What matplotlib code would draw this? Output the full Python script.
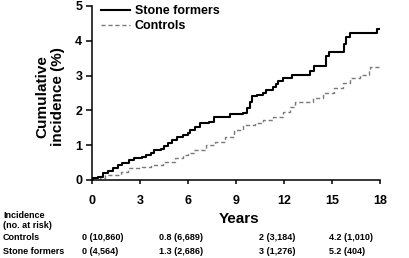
import matplotlib
matplotlib.use("Agg")
import matplotlib.pyplot as plt

# curvas (anos, incidencia acumulada %)
stone_t = [0, 0.06, 0.4, 0.7, 1.0, 1.3, 1.6, 1.9, 2.3, 2.6, 3.1, 3.4, 3.7, 3.9,
           4.3, 4.5, 4.75, 5.0, 5.3, 5.7, 6.0, 6.1, 6.45, 6.75, 7.3, 7.6, 8.2,
           8.6, 9.45, 9.7, 9.85, 10.0, 10.3, 10.7, 10.9, 11.3, 11.5, 11.65,
           11.95, 12.5, 13.6, 13.9, 14.65, 14.8, 15.75, 15.9, 16.1, 17.8, 18.0]
stone_v = [0, 0.05, 0.1, 0.21, 0.27, 0.35, 0.43, 0.5, 0.57, 0.62, 0.66, 0.72,
           0.77, 0.86, 0.88, 0.97, 1.05, 1.15, 1.24, 1.3, 1.36, 1.44, 1.53,
           1.64, 1.68, 1.8, 1.82, 1.91, 1.93, 2.06, 2.25, 2.4, 2.44, 2.49,
           2.59, 2.68, 2.75, 2.84, 2.92, 3.02, 3.13, 3.28, 3.55, 3.69, 3.9,
           4.12, 4.21, 4.33, 4.33]

ctrl_t = [0, 0.5, 0.8, 1.8, 2.25, 3.1, 3.7, 4.45, 5.2, 5.7, 6.0, 6.4, 7.1, 7.7,
          8.3, 8.9, 9.45, 10.2, 10.7, 11.3, 11.95, 12.4, 12.7, 13.8, 14.45,
          15.1, 15.7, 16.1, 16.75, 17.3, 17.4, 18.0]
ctrl_v = [0, 0.07, 0.14, 0.24, 0.34, 0.38, 0.43, 0.53, 0.62, 0.72, 0.79, 0.86,
          1.0, 1.1, 1.24, 1.44, 1.58, 1.65, 1.72, 1.82, 1.96, 2.1, 2.25, 2.35,
          2.49, 2.63, 2.78, 2.92, 3.02, 3.16, 3.26, 3.28]

# tabela de risco embaixo
row_names = ["Controls", "Stone formers"]
ctrl_cells = ["0 (10,860)", "0.8 (6,689)", "2 (3,184)", "4.2 (1,010)"]
stone_cells = ["0 (4,564)", "1.3 (2,686)", "3 (1,276)", "5.2 (404)"]

plt.rcParams["font.family"] = ["Liberation Sans", "DejaVu Sans"]
plt.rcParams["font.weight"] = "bold"

W, H = 410, 258
fig = plt.figure(figsize=(W / 100, H / 100), dpi=100)
ax = fig.add_axes([92 / W, 1 - 180 / H, 288 / W, 174 / H])

ax.plot(stone_t, stone_v, drawstyle="steps-post", color="black", lw=1.5,
        label="Stone formers")
ax.plot(ctrl_t, ctrl_v, drawstyle="steps-post", color="#7a7a7a", lw=1.0,
        dashes=(3, 2), label="Controls")

ax.set_xlim(0, 18)
ax.set_ylim(0, 5)
ax.set_xticks(range(0, 19, 3))
ax.set_yticks(range(0, 6))
for s in ["top", "right"]:
    ax.spines[s].set_visible(False)
for s in ["left", "bottom"]:
    ax.spines[s].set_linewidth(1.1)
ax.tick_params(axis="x", length=3, width=1.1, pad=8, labelsize=9)
ax.tick_params(axis="y", length=4, width=1.1, pad=3, labelsize=9)
for lab in ax.get_xticklabels() + ax.get_yticklabels():
    lab.set_fontweight("bold")

ax.legend(loc="upper left", bbox_to_anchor=(0.01, 1.04), frameon=False,
          handlelength=2.3, handletextpad=0.4, labelspacing=0.25,
          borderpad=0, prop={"weight": "bold", "size": 9})

fig.text(50 / W, 1 - 97 / H, "Cumulative\nincidence (%)", rotation=90,
         ha="center", va="center", fontsize=11, fontweight="bold",
         linespacing=1.15)
fig.text(239 / W, 1 - 219 / H, "Years", ha="center", va="center",
         fontsize=11, fontweight="bold")

fs = 6.5
fig.text(3 / W, 1 - 215 / H, "Incidence", va="center", fontsize=fs)
fig.text(3 / W, 1 - 225 / H, "(no. at risk)", va="center", fontsize=fs)
col_x = [82, 159, 259, 329]
for name, cells, y in zip(row_names, [ctrl_cells, stone_cells], [238, 252]):
    fig.text(3 / W, 1 - y / H, name, va="center", fontsize=fs)
    for cx, c in zip(col_x, cells):
        fig.text(cx / W, 1 - y / H, c, va="center", fontsize=fs)

fig.savefig("out.png", dpi=100)
